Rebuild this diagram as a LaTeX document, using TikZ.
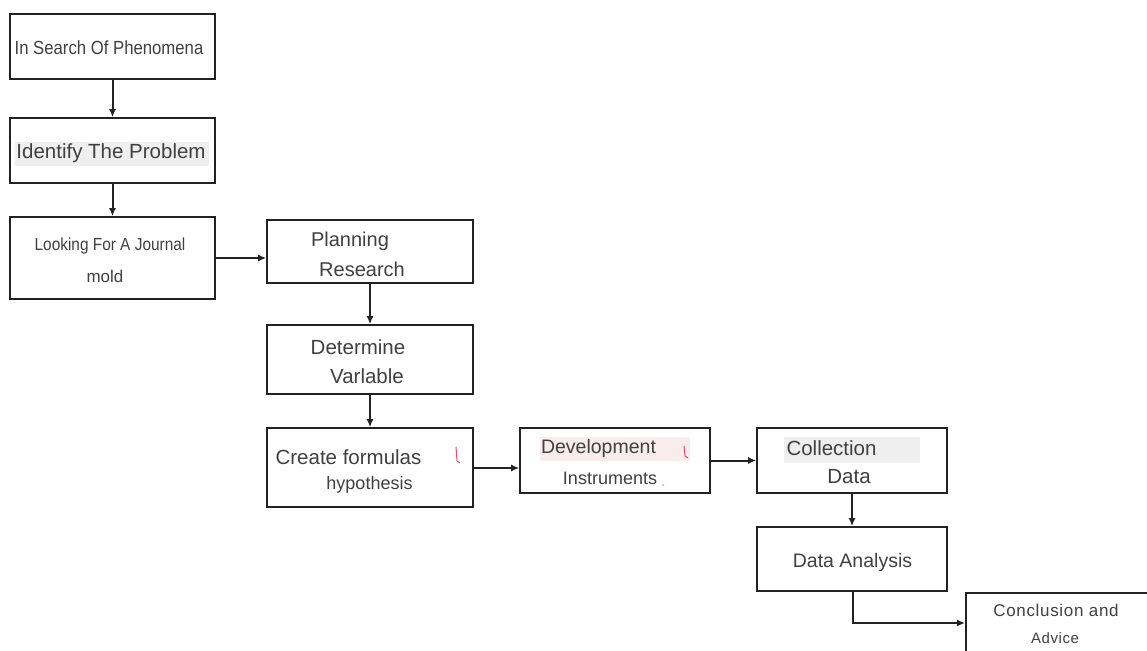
\documentclass[tikz,border=0pt]{standalone}
\usepackage{fontspec}
\setmainfont{Liberation Sans}
\newfontfamily\narrowfont[FakeStretch=0.88]{Liberation Sans}
\newfontfamily\wideface[LetterSpace=4]{Liberation Sans}
\usetikzlibrary{arrows.meta}
\definecolor{linecol}{HTML}{222222}
\definecolor{textcol}{HTML}{404040}
\definecolor{hlgray}{HTML}{EFEFEF}
\definecolor{hlpink}{HTML}{F9ECEC}
\definecolor{markred}{HTML}{E0506A}
\tikzset{
  flowbox/.style={draw=linecol, line width=1.6pt, minimum width=#1, inner sep=0pt},
  txt/.style={text=textcol, inner sep=0pt, anchor=center},
  flowarrow/.style={draw=linecol, line width=2pt, -{Latex[length=8pt,width=7pt]}},
}
\begin{document}
\begin{tikzpicture}[x=1pt,y=-1pt]
\useasboundingbox (0,0) rectangle (1147,650);
\clip (0,0) rectangle (1147,650);
\fill[white] (0,0) rectangle (1147,650);
% highlights
\fill[hlgray] (15,142) rectangle (209,166);
\fill[hlpink] (540,437) rectangle (690,461);
\fill[hlgray] (784,437) rectangle (920,463);
% boxes
\node[flowbox=205pt, minimum height=65pt] (b1) at (112.5,46.5) {};
\node[flowbox=205pt, minimum height=65pt] (b2) at (112.5,150.5) {};
\node[flowbox=205pt, minimum height=82pt] (b3) at (112.5,258) {};
\node[flowbox=206pt, minimum height=63pt] (plan) at (370,251.5) {};
\node[flowbox=206pt, minimum height=69pt] (det) at (370,359.5) {};
\node[flowbox=206pt, minimum height=79pt] (cre) at (370,467.5) {};
\node[flowbox=190pt, minimum height=65pt] (dev) at (615,460.5) {};
\node[flowbox=190pt, minimum height=65pt] (col) at (852,460.5) {};
\node[flowbox=190pt, minimum height=64pt] (ana) at (852,559) {};
\node[flowbox=200pt, minimum height=90pt, anchor=north west] (con) at (965,592) {};
% texts
\node[txt, font=\narrowfont\fontsize{19}{22}\selectfont] (t1) at (109,48) {In Search Of Phenomena};
\node[txt, font=\fontsize{20.5}{24}\selectfont] (t2) at (111,153) {Identify The Problem};
\node[txt, font=\narrowfont\fontsize{17.5}{20}\selectfont] (t3a) at (110,246) {Looking For A Journal};
\node[txt, font=\fontsize{17}{20}\selectfont] (t3b) at (105,276) {mold};
\node[txt, font=\fontsize{20}{24}\selectfont] (t4a) at (350,241) {Planning};
\node[txt, font=\fontsize{20}{24}\selectfont] (t4b) at (362,269) {Research};
\node[txt, font=\fontsize{20.5}{24}\selectfont] (t5a) at (358,347) {Determine};
\node[txt, font=\fontsize{20.5}{24}\selectfont] (t5b) at (367,376) {Varlable};
\node[txt, font=\fontsize{20.5}{24}\selectfont] (t6a) at (348.5,457) {Create formulas};
\node[txt, font=\fontsize{18}{22}\selectfont] (t6b) at (369.5,485) {hypothesis};
\node[txt, font=\fontsize{19.5}{24}\selectfont] (t7a) at (598.5,448) {Development};
\node[txt, font=\fontsize{18}{22}\selectfont] (t7b) at (610,478) {Instruments};
\node[txt, font=\fontsize{20.5}{24}\selectfont] (t8a) at (831.5,448) {Collection};
\node[txt, font=\fontsize{20.5}{24}\selectfont] (t8b) at (849,477) {Data};
\node[txt, font=\fontsize{19.5}{24}\selectfont] (t9) at (852.5,562) {Data Analysis};
\node[txt, font=\wideface\fontsize{17}{20}\selectfont] (t10a) at (1056,610) {Conclusion and};
\node[txt, font=\wideface\fontsize{15}{18}\selectfont] (t10b) at (1055,638) {Advice};
% red marks
\draw[markred, line width=1pt] (456,447) -- (457,461) -- (460,463);
\draw[markred, line width=1pt] (684,446) -- (685,456) -- (688,458);
\fill[markred!60] (663,485) circle (1pt);
% connectors
\draw[flowarrow] (b1.south) -- (b2.north);
\draw[flowarrow] (b2.south) -- (b3.north);
\draw[flowarrow] (b3.east) -- (b3.east -| plan.west);
\draw[flowarrow] (plan.south) -- (det.north);
\draw[flowarrow] (det.south) -- (cre.north);
\draw[flowarrow] ([yshift=-0.5pt]cre.east) -- ([yshift=-0.5pt]cre.east -| dev.west);
\draw[flowarrow] (dev.east) -- (col.west);
\draw[flowarrow] (col.south) -- (ana.north);
\coordinate (bend) at (ana.south |- 0,623);
\draw[flowarrow] ([xshift=1pt]ana.south) -- ([xshift=1pt]bend) -- (bend -| con.west);
\end{tikzpicture}
\end{document}
